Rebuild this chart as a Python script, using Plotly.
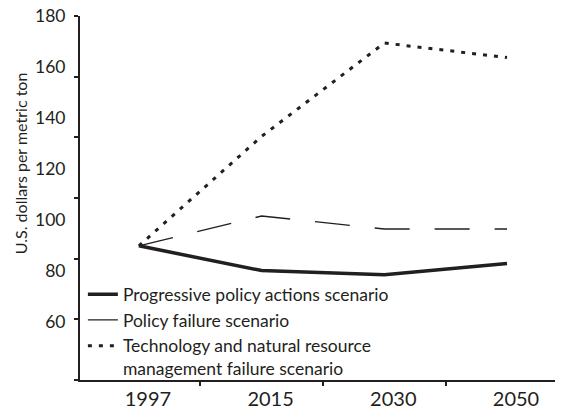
import plotly.graph_objects as go

years = ["1997", "2015", "2030", "2050"]
progressive = [90, 80.3, 78.7, 83.1]
policy_failure = [90, 101.7, 96.6, 96.6]
tech_failure = [90, 132.9, 169.5, 163.8]
y_tick_values = [60, 80, 100, 120, 140, 160, 180]
y_range = [37.4, 180.1]

INK = "#231f20"
FONT = "Lato"

# tick marks of the vertical axis: seven evenly spaced marks over the axis
mark_step = (y_range[1] - y_range[0]) / 6
y_mark_values = [y_range[0] + k * mark_step for k in range(7)]

fig = go.Figure()
fig.add_trace(go.Scatter(x=years, y=progressive, mode="lines",
                         name="Progressive policy actions scenario",
                         line=dict(color=INK, width=3.5), legendgroup="a"))
fig.add_trace(go.Scatter(x=years, y=policy_failure, mode="lines",
                         name="Policy failure scenario",
                         line=dict(color=INK, width=1.4, dash="35px,25px"), legendgroup="b"))
fig.add_trace(go.Scatter(x=years, y=tech_failure, mode="lines",
                         name="Technology and natural resource<br>management failure scenario",
                         line=dict(color=INK, width=3, dash="4px,7px"), legendgroup="c"))

fig.update_layout(
    width=563, height=419,
    margin=dict(l=72, r=10, t=8, b=47, autoexpand=False),
    paper_bgcolor="white", plot_bgcolor="white",
    font=dict(family=FONT, color=INK),
    showlegend=True,
    legend=dict(x=0.006, y=0.285, xanchor="left", yanchor="top",
                bgcolor="rgba(0,0,0,0)", borderwidth=0,
                font=dict(family=FONT, size=17.5, color=INK),
                tracegroupgap=0, valign="top", itemwidth=30),
    xaxis=dict(type="category", range=[-0.48, 3.44], showline=True, automargin=False,
               linecolor=INK, linewidth=2, ticks="outside", tickson="boundaries",
               ticklen=4, tickwidth=1.5, tickcolor=INK, showgrid=False, zeroline=False,
               ticklabelshift=9, ticklabeloverflow="allow",
               tickfont=dict(family=FONT, size=20, color=INK)),
    yaxis=dict(range=y_range, tickvals=y_tick_values, ticks="", automargin=False,
               showline=True, linecolor=INK, linewidth=2, showgrid=False, zeroline=False,
               tickfont=dict(family=FONT, size=17.5, color=INK),
               ticklabelstandoff=9, ticklabeloverflow="allow",
               minor=dict(tickvals=y_mark_values, ticks="outside", ticklen=4,
                          tickwidth=1.5, tickcolor=INK, showgrid=False)),
    annotations=[dict(text="U.S. dollars per metric ton", textangle=-90,
                      xref="paper", yref="paper", x=-0.1245, y=0.596,
                      xanchor="center", yanchor="middle", showarrow=False,
                      font=dict(family=FONT, size=16, color=INK))],
)

fig.write_html("out.html")
